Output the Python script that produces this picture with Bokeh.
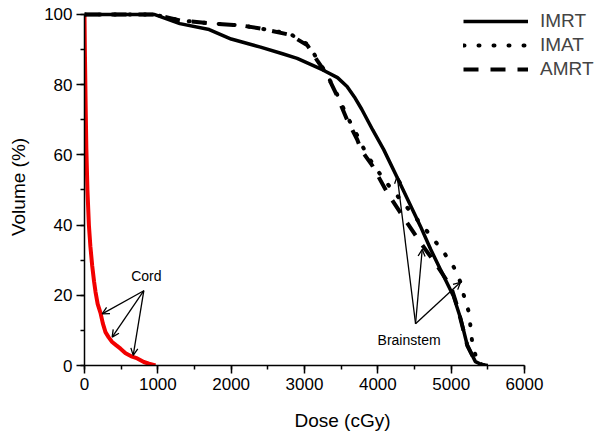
from bokeh.plotting import figure
from bokeh.models import (Range1d, Legend, LegendItem, Arrow, OpenHead, Label,
                          SingleIntervalTicker)
from bokeh.embed import file_html
from bokeh.resources import INLINE

# ---- data (dose in cGy, volume in %) ----
imrt_dose = [0, 950, 1300, 1700, 2000, 2400, 2700, 2900, 3250, 3450, 3580, 3680, 3780,
             3930, 4080, 4300, 4580, 4720, 4850, 5030, 5130, 5220, 5330, 5420, 5500]
imrt_vol = [100, 100, 97.4, 95.7, 93, 90.7, 88.8, 87.5, 84.2, 82, 79.5, 76.5, 73,
            67.1, 61.5, 52, 39.7, 33.1, 27.5, 19.8, 13.3, 5.7, 1.1, 0.2, 0]

imat_dose = [0, 950, 1300, 1760, 2130, 2400, 2800, 3040, 3170, 3310, 3450, 3580,
             3720, 3850, 4080, 4420, 4740, 4900, 5036, 5127, 5173, 5241, 5264,
             5286, 5332, 5380, 5450]
imat_vol = [100, 100, 98.3, 97.4, 96.9, 96, 94.5, 91.5, 87.5, 82.7, 77, 71,
            65.5, 60, 53, 44.5, 36.5, 32.2, 28, 23.7, 19.9, 15.2, 11,
            6.7, 2.9, 1, 0]

amrt_dose = [0, 950, 1300, 1760, 2130, 2400, 2800, 3040, 3170, 3310, 3450, 3580,
             3720, 3770, 3923, 4127, 4355, 4582, 4809, 5000, 5080, 5130, 5220,
             5330, 5450]
amrt_vol = [100, 100, 98.3, 97.4, 96.9, 96, 94.2, 91.2, 87, 82.7, 76.6, 70,
            64.3, 61.5, 57, 49.3, 42, 35, 28.4, 22.3, 17, 13, 5.7,
            1.1, 0]

cord_dose = [0, 5, 15, 25, 40, 60, 80, 105, 130, 150, 180, 218, 250, 286, 330,
             377, 430, 491, 560, 650, 720, 809, 880, 968]
cord_vol = [100, 90, 75, 62, 50, 40, 34, 28.4, 24, 21, 17.5, 15, 12, 9.5, 8,
            6.7, 5.8, 4.8, 3.5, 2.5, 2, 1, 0.5, 0]

# annotations (data coordinates)
cord_label = ("Cord", 843, 25.4)
cord_from = (809, 21.3)
cord_tips = [(241, 14.7), (377, 8.1), (664, 2.9)]
brain_label = ("Brainstem", 4426, 7.2)
brain_from = (4514, 11.9)
brain_tips = [(4264, 53.9), (4605, 33.1), (5127, 23.7)]

x_ticks = [0, 1000, 2000, 3000, 4000, 5000, 6000]
y_ticks = [0, 20, 40, 60, 80, 100]

FONT = "Liberation Sans"

p = figure(width=600, height=433, output_backend="svg", toolbar_location=None,
           x_range=Range1d(0, 7036), y_range=Range1d(0, 101.7),
           min_border_left=84, min_border_right=0, min_border_top=8,
           min_border_bottom=66)
p.outline_line_color = None
p.xgrid.visible = False
p.ygrid.visible = False
p.background_fill_color = "white"

for ax, ticks, step in ((p.xaxis[0], x_ticks, 1000), (p.yaxis[0], y_ticks, 20)):
    ax.ticker = SingleIntervalTicker(interval=step, num_minor_ticks=2)
    ax.bounds = (ticks[0], ticks[-1])
    ax.axis_line_width = 1.5
    ax.axis_line_color = "black"
    ax.major_tick_line_width = 1.5
    ax.minor_tick_line_width = 1.5
    ax.major_tick_out = 8
    ax.major_tick_in = 0
    ax.minor_tick_out = 4
    ax.minor_tick_in = 0
    ax.major_label_text_font = FONT
    ax.major_label_text_font_size = "17px"
    ax.major_label_text_color = "black"
    ax.axis_label_text_font = FONT
    ax.axis_label_text_font_size = "19px"
    ax.axis_label_text_font_style = "normal"
    ax.axis_label_text_color = "black"
    ax.major_label_standoff = 4

p.xaxis.axis_label = "Dose (cGy)"
p.yaxis.axis_label = "Volume (%)"
p.xaxis.axis_label_standoff = 17
p.yaxis.axis_label_standoff = 12

p.line(cord_dose, cord_vol, line_color="#f20000", line_width=4)
r1 = p.line(imrt_dose, imrt_vol, line_color="black", line_width=3.5)
r2 = p.line(imat_dose, imat_vol, line_color="black", line_width=4,
            line_dash="1 14", line_cap="round")
r3 = p.line(amrt_dose, amrt_vol, line_color="black", line_width=4,
            line_dash="15 12")

legend = Legend(items=[LegendItem(label="IMRT", renderers=[r1]),
                       LegendItem(label="IMAT", renderers=[r2]),
                       LegendItem(label="AMRT", renderers=[r3])],
                location=(379, 284), padding=0, margin=0, spacing=0,
                glyph_width=65, glyph_height=24, label_height=24,
                label_standoff=12, border_line_color=None,
                background_fill_alpha=0,
                label_text_font=FONT, label_text_font_size="19px")
p.add_layout(legend, "center")

def arrows(origin, tips):
    for (tx, ty) in tips:
        p.add_layout(Arrow(x_start=origin[0], y_start=origin[1], x_end=tx, y_end=ty,
                           line_width=1.3, line_color="black",
                           end=OpenHead(size=7, line_width=1.3, line_color="black")))

arrows(cord_from, cord_tips)
arrows(brain_from, brain_tips)

for txt, lx, ly in (cord_label, brain_label):
    p.add_layout(Label(x=lx, y=ly, text=txt, text_align="center",
                       text_baseline="middle", text_font=FONT,
                       text_font_size="14px", text_color="black"))

open("out.html", "w").write(file_html(p, INLINE))
